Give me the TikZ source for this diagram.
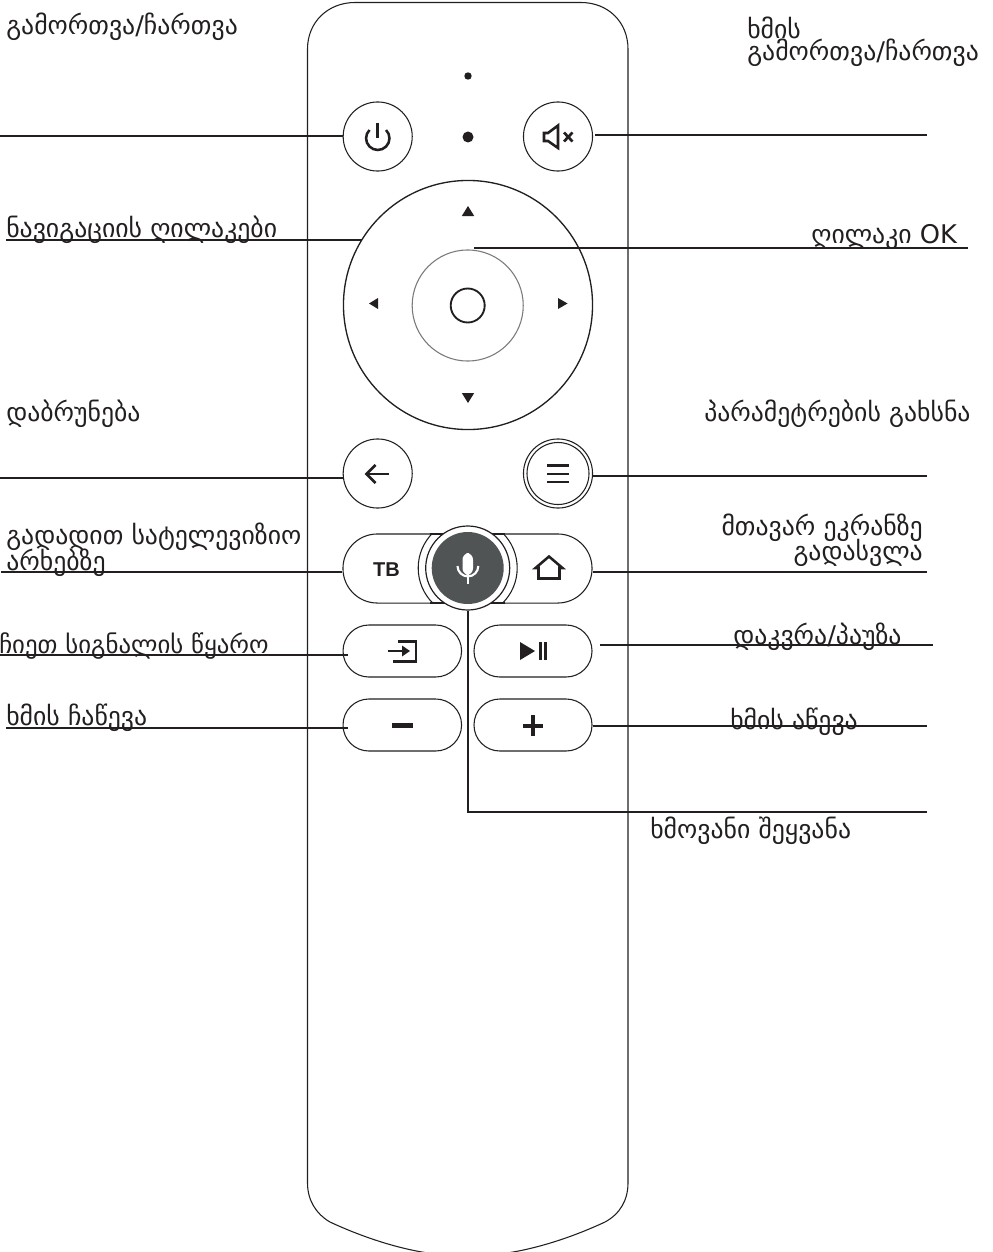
\documentclass[tikz,border=0pt]{standalone}
\usepackage{fontspec}
\setmainfont{DejaVu Sans}
\newfontfamily\tbfont{Liberation Sans}
\definecolor{ink}{HTML}{231F20}
\definecolor{micgrey}{HTML}{505455}
\tikzset{
  body/.style={draw=ink,line width=0.8pt,fill=white},
  roundbtn/.style={circle,draw=ink,line width=0.8pt,minimum size=51.8pt,inner sep=0pt,fill=white},
  pillbtn/.style={rectangle,rounded corners=25.8pt,draw=ink,line width=0.8pt,inner sep=0pt,fill=white},
  smallpill/.style={rectangle,rounded corners=19.4pt,draw=ink,line width=0.8pt,inner sep=0pt,fill=white,minimum height=39pt},
  leader/.style={draw=ink,line width=1.5pt},
  icon/.style={draw=ink,line width=1.9pt},
  lab/.style={inner sep=0pt,font=\fontsize{19.3pt}{22pt}\selectfont,text=ink,anchor=base west},
}
\begin{document}
\begin{tikzpicture}[x=0.75pt,y=-0.75pt]
\useasboundingbox (0,0) rectangle (992,1252);
\clip (0,0) rectangle (992,1252);
% remote body
\path[body] (307.5,49) .. controls (307.5,22) and (328,2.5) .. (355,2.5) -- (581,2.5)
  .. controls (608,2.5) and (628,22) .. (628,49) -- (628,1183)
  .. controls (628,1200) and (620,1214) .. (605,1222)
  .. controls (575,1236) and (540,1248) .. (507,1253) -- (428,1253)
  .. controls (395,1248) and (360,1236) .. (330,1222)
  .. controls (316,1214) and (307.5,1200) .. (307.5,1183) -- cycle;
% dots
\fill[ink] (468,76) circle[radius=3.7];
\fill[ink] (468,137) circle[radius=5.5];
% top buttons
\node[roundbtn] (power) at (377.7,136.5) {};
\node[roundbtn] (mute) at (558,136.5) {};
\draw[icon] (369.5,130) arc[start angle=225,end angle=-45,radius=11.7];
\draw[icon] (377.7,123) -- (377.7,138);
\draw[icon,line join=miter] (558,125.5) -- (548,133) -- (544,133) -- (544,141) -- (548,141) -- (558,148) -- cycle;
\draw[ink,line width=2pt] (564,132.5) -- (572.5,141.5) (572.5,132.5) -- (564,141.5);
% navigation
\node[circle,draw=ink,line width=1.0pt,minimum size=186.8pt,inner sep=0pt,fill=white] (nav) at (468,305) {};
\node[circle,draw=ink!60,line width=0.8pt,minimum size=83.3pt,inner sep=0pt] (okring) at (467.7,305.5) {};
\node[circle,draw=ink,line width=1.4pt,minimum size=25.5pt,inner sep=0pt] (okbtn) at (467.7,305.5) {};
\fill[ink] (468,206) -- (474.2,216) -- (461.8,216) -- cycle;
\fill[ink] (468,403) -- (474.2,393) -- (461.8,393) -- cycle;
\fill[ink] (369,303.5) -- (378,298) -- (378,309) -- cycle;
\fill[ink] (567.5,303.5) -- (558,298) -- (558,309) -- cycle;
% back and menu
\node[roundbtn] (back) at (377.7,473.5) {};
\node[roundbtn] (menu) at (558,473.5) {};
\node[circle,draw=ink,line width=0.8pt,minimum size=46.5pt,inner sep=0pt] at (558,473.5) {};
\draw[icon] (389,474) -- (367,474);
\draw[icon] (375.5,465) -- (366.5,474) -- (375.5,483);
\draw[icon] (547,465.7) -- (569,465.7) (547,474) -- (569,474) (547,482) -- (569,482);
% TV / mic / home
\node[pillbtn,minimum width=186.8pt,minimum height=51.8pt] (tvpill) at (467.5,568.5) {};
\begin{scope}
  \clip (343,534) rectangle (592,603);
  \draw[ink,line width=0.8pt,fill=white] (467.7,568) circle[radius=49.5];
\end{scope}
\draw[ink,line width=0.8pt] (430,603) -- (505,603) (430,534) -- (505,534);
\node[circle,draw=ink,line width=0.9pt,minimum size=63pt,inner sep=0pt,fill=white] (micring) at (467.7,568) {};
\node[circle,fill=micgrey,minimum size=54pt,inner sep=0pt] (mic) at (467.7,568) {};
\fill[white,rounded corners=5pt] (462.5,553) rectangle (473,575);
\draw[white,line width=1.6pt] (457.5,566) arc[start angle=180,end angle=0,radius=10.4];
\draw[white,line width=1.8pt] (467.7,576) -- (467.7,584);
\node[inner sep=0pt,font=\tbfont\bfseries\fontsize{15pt}{15pt}\selectfont,text=ink] (tv) at (386.5,570) {TB};
\draw[icon,line join=miter] (535.5,568) -- (549,556.5) -- (562.5,568) -- (559.5,568) -- (559.5,578.5) -- (538.5,578.5) -- (538.5,568) -- cycle;
% source and play
\node[smallpill,minimum width=88.9pt] (source) at (402.3,651) {};
\node[smallpill,minimum width=88.5pt] (play) at (533,651) {};
\draw[icon] (398,641.5) -- (416,641.5) -- (416,661.5) -- (393,661.5);
\draw[icon] (388,651) -- (404,651);
\fill[ink] (410,651) -- (402,645.5) -- (402,656.5) -- cycle;
\fill[ink] (520,642) -- (535,651) -- (520,660) -- cycle;
\fill[ink] (538.5,642) rectangle (541.5,660);
\fill[ink] (544,642) rectangle (547,660);
% volume
\node[smallpill,minimum width=88.9pt] (minus) at (402.3,725) {};
\node[smallpill,minimum width=88.5pt] (plus) at (533,725) {};
\fill[ink] (392,723) rectangle (413,727.5);
\fill[ink] (523,723.5) rectangle (543,727.5);
\fill[ink] (531,715) rectangle (535.2,736);
% free ends
\coordinate (powerEnd) at (0,136);
\coordinate (muteEnd) at (927,135);
\coordinate (navEnd) at (6,240);
\coordinate (okEnd) at (968,248);
\coordinate (okStart) at (474,248);
\coordinate (backEnd) at (0,478);
\coordinate (menuEnd) at (927,476);
\coordinate (tvEnd) at (1,572);
\coordinate (homeEnd) at (927,572);
\coordinate (sourceEnd) at (0,655);
\coordinate (playEnd) at (933,645);
\coordinate (playStart) at (600,645);
\coordinate (minusEnd) at (6,728);
\coordinate (plusEnd) at (927,726);
\coordinate (micCorner) at (467.7,812);
\coordinate (micEnd) at (927,812);
% connectors
\draw[leader] (powerEnd) -- (powerEnd -| power.west);
\draw[leader] (mute.east |- muteEnd) ++(2,0) -- (muteEnd);
\draw[leader] (navEnd) -- (navEnd -| nav.148.5);
\draw[leader] (okStart) -- (okEnd);
\draw[leader] (backEnd) -- (backEnd -| back.west);
\draw[leader] (menuEnd -| menu.east) -- (menuEnd);
\draw[leader] (tvEnd) -- (tvEnd -| tvpill.west);
\draw[leader] (homeEnd -| tvpill.east) -- (homeEnd);
\draw[leader] (sourceEnd) -- ([xshift=3.75pt]sourceEnd -| source.west);
\draw[leader] (playStart) -- (playEnd);
\draw[leader] (minusEnd) -- ([xshift=3.75pt]minusEnd -| minus.west);
\draw[leader] (plusEnd -| plus.east) -- (plusEnd);
\draw[leader] (micring.south) -- (micCorner) -- (micEnd);
% labels
\node[lab] (l1) at (6,35) {გამორთვა/ჩართვა};
\node[lab] (l2a) at (747,38.5) {ხმის};
\node[lab] (l2b) at (747,61) {გამორთვა/ჩართვა};
\node[lab] (l3) at (6,237) {ნავიგაციის ღილაკები};
\node[lab] (l4) at (811,243) {ღილაკი OK};
\node[lab] (l5) at (6,421) {დაბრუნება};
\node[lab] (l6) at (704,421) {პარამეტრების გახსნა};
\node[lab] (l7a) at (6,544) {გადადით სატელევიზიო};
\node[lab] (l7b) at (6,570) {არხებზე};
\node[lab,anchor=base east,font=\fontsize{18.6pt}{22pt}\selectfont] (l8) at (269,653) {ჩიეთ სიგნალის წყარო};
\node[lab] (l9) at (6,725) {ხმის ჩაწევა};
\node[lab,anchor=base east] (l10a) at (923,535) {მთავარ ეკრანზე};
\node[lab,anchor=base east] (l10b) at (923,560) {გადასვლა};
\node[lab] (l11) at (733,644) {დაკვრა/პაუზა};
\node[lab] (l12) at (730,729) {ხმის აწევა};
\node[lab] (l13) at (650,838) {ხმოვანი შეყვანა};
\end{tikzpicture}
\end{document}
